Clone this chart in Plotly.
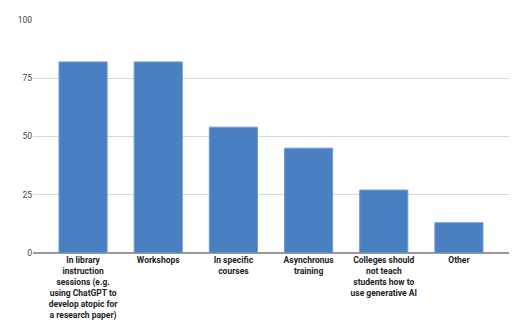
import plotly.graph_objects as go

categories = [
    "In library<br>instruction<br>sessions (e.g.<br>using ChatGPT to<br>develop atopic for<br>a research paper)",
    "Workshops",
    "In specific<br>courses",
    "Asynchronus<br>training",
    "Colleges should<br>not teach<br>students how to<br>use generative AI",
    "Other",
]
values = [82, 82, 54, 45, 27, 13]
y_ticks = [0, 25, 50, 75, 100]

fig = go.Figure(go.Bar(
    x=list(range(len(categories))),
    y=values,
    marker=dict(color="#4a7fc1", line=dict(color="#6b9ad6", width=1)),
    width=0.64,
))

fig.update_layout(
    width=525, height=325,
    margin=dict(l=33, r=16, t=20, b=72),
    plot_bgcolor="white", paper_bgcolor="white",
    showlegend=False,
    font=dict(family="Roboto, Arial, sans-serif"),
    xaxis=dict(
        tickmode="array",
        tickvals=list(range(len(categories))),
        ticktext=["<b>" + c.replace("<br>", "</b><br><b>") + "</b>" for c in categories],
        range=[-0.666, 5.666],
        showgrid=False,
        showline=False,
        ticks="",
        tickfont=dict(size=8.5, color="#222222"),
        tickangle=0,
        automargin=False,
    ),
    yaxis=dict(
        range=[0, 100],
        tickvals=y_ticks,
        showgrid=True,
        gridcolor="#d9d9d9",
        gridwidth=1,
        zeroline=True,
        zerolinecolor="#999999",
        zerolinewidth=2,
        tickfont=dict(size=8.5, color="#444444"),
        ticks="",
        automargin=False,
    ),
    bargap=0.36,
)

fig.write_html("out.html")
